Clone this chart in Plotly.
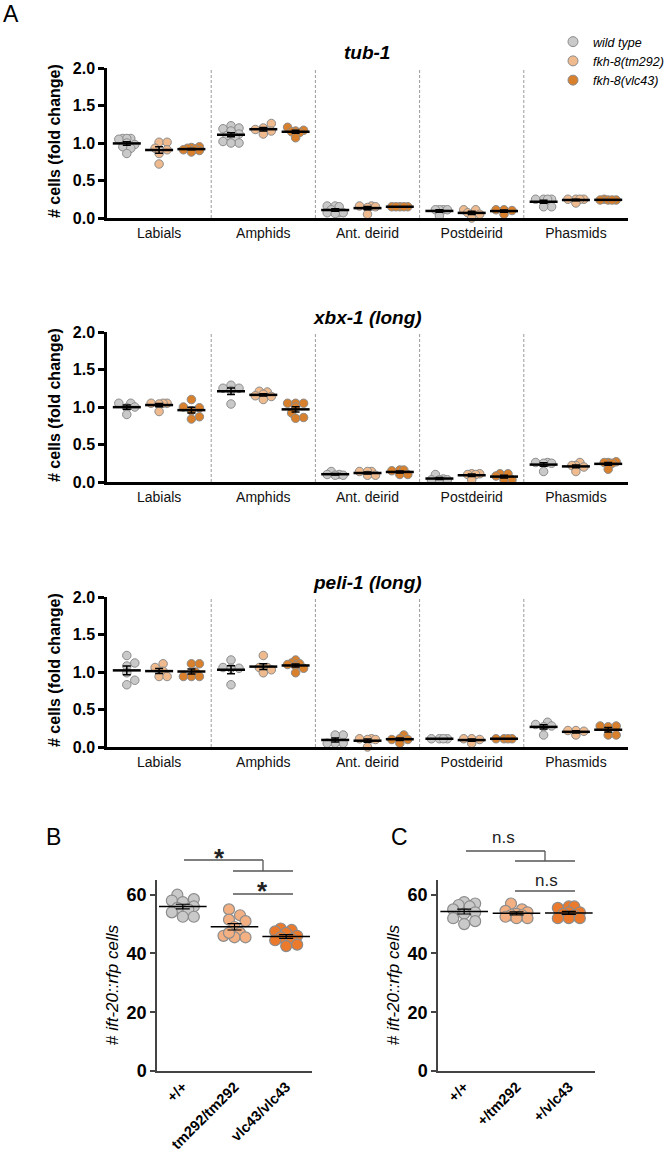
import numpy as np
import plotly.graph_objects as go

# ---- data ----
regions = ["Labials", "Amphids", "Ant. deirid", "Postdeirid", "Phasmids"]
strains = ["wild type", "fkh-8(tm292)", "fkh-8(vlc43)"]
genes = ["tub-1", "xbx-1 (long)", "peli-1 (long)"]

tub1_wt = [[1.06, 1.06, 1.06, 1.05, 1.0, 0.98, 0.95, 0.93, 0.86],
           [1.23, 1.2, 1.19, 1.16, 1.12, 1.1, 1.08, 1.02, 1.0, 1.0],
           [0.16, 0.16, 0.15, 0.11, 0.07, 0.07, 0.07, 0.06],
           [0.11, 0.11, 0.11, 0.11, 0.03],
           [0.25, 0.25, 0.25, 0.25, 0.15, 0.15]]
tub1_tm292 = [[1.01, 1.01, 0.93, 0.91, 0.86, 0.72],
              [1.26, 1.2, 1.18, 1.16, 1.12],
              [0.16, 0.16, 0.15, 0.14, 0.05],
              [0.11, 0.11, 0.07, 0.05, 0.0],
              [0.25, 0.25, 0.25, 0.25, 0.2]]
tub1_vlc43 = [[0.95, 0.94, 0.93, 0.92, 0.91, 0.90, 0.88],
              [1.21, 1.17, 1.16, 1.15, 1.14, 1.07],
              [0.15, 0.15, 0.15, 0.15, 0.15],
              [0.11, 0.11, 0.1, 0.05],
              [0.25, 0.24, 0.24, 0.24, 0.24]]

xbx1_wt = [[1.05, 1.05, 1.0, 0.99, 0.9],
           [1.29, 1.25, 1.25, 1.22, 1.04],
           [0.14, 0.1, 0.1, 0.09, 0.09],
           [0.1, 0.04, 0.03, 0.03, 0.03],
           [0.26, 0.26, 0.25, 0.25, 0.14]]
xbx1_tm292 = [[1.05, 1.05, 1.05, 1.04, 0.94],
              [1.21, 1.2, 1.17, 1.15, 1.14, 1.1],
              [0.14, 0.14, 0.14, 0.09, 0.09],
              [0.11, 0.11, 0.1, 0.1, 0.03],
              [0.26, 0.22, 0.22, 0.2, 0.14]]
xbx1_vlc43 = [[1.1, 1.0, 0.99, 0.95, 0.87, 0.84],
              [1.05, 1.05, 1.05, 1.0, 0.92, 0.86, 0.85],
              [0.16, 0.16, 0.15, 0.1, 0.1],
              [0.11, 0.11, 0.08, 0.03, 0.03],
              [0.27, 0.26, 0.26, 0.25, 0.17]]

peli1_wt = [[1.22, 1.12, 1.08, 0.99, 0.89, 0.83],
            [1.16, 1.06, 1.05, 1.05, 0.83],
            [0.16, 0.16, 0.05, 0.05, 0.05],
            [0.11, 0.11, 0.11, 0.11],
            [0.33, 0.3, 0.28, 0.27, 0.16]]
peli1_tm292 = [[1.11, 1.06, 1.01, 0.94, 0.94],
               [1.22, 1.06, 1.06, 1.03, 0.99],
               [0.11, 0.11, 0.1, 0.1, 0.0],
               [0.11, 0.11, 0.1, 0.05],
               [0.22, 0.22, 0.21, 0.16]]
peli1_vlc43 = [[1.11, 1.11, 1.0, 0.94, 0.94, 0.94],
               [1.16, 1.12, 1.11, 1.1, 1.08, 1.05, 0.99],
               [0.16, 0.11, 0.1, 0.1, 0.05],
               [0.11, 0.11, 0.11, 0.11],
               [0.28, 0.28, 0.27, 0.16, 0.16]]

panel_a = [[tub1_wt, tub1_tm292, tub1_vlc43],
           [xbx1_wt, xbx1_tm292, xbx1_vlc43],
           [peli1_wt, peli1_tm292, peli1_vlc43]]

labels_b = ["+/+", "tm292/tm292", "vlc43/vlc43"]
b_wt = [60, 58.5, 58, 57.5, 56, 55.5, 55, 54, 52.5, 52.5]
b_tm292 = [55, 53, 51.5, 51, 49, 47, 46, 45.5, 45.5, 47]
b_vlc43 = [48.5, 48, 47.5, 47, 46, 45.5, 45, 44.5, 43, 42.5]

labels_c = ["+/+", "+/tm292", "+/vlc43"]
c_wt = [57.5, 57, 56.5, 56, 55, 54, 53.5, 52, 51, 50]
c_tm292 = [57, 55, 54.5, 54, 53.5, 53, 53, 52.5, 52, 52]
c_vlc43 = [56, 56, 55.5, 54, 54, 53.5, 53, 52, 52, 52]

# ---- style ----
W, H = 668, 1153
FONT = "Liberation Sans, Arial, sans-serif"
fill_a = ["#c9c9c9", "#efbb8e", "#d8802c"]
fill_b = ["#c9c9c9", "#f3b083", "#ec7a2c"]
edge = "#8c8c8c"


def swarm(vals, ppu, diam, maxw):
    # compact beeswarm: pixel offsets, limited to +-maxw, overlap allowed when crowded
    vals = np.asarray(vals, float)
    offs = np.zeros(len(vals))
    placed = []
    step = diam * 0.5
    cands = [0.0]
    for n in range(1, 40):
        if n * step > maxw:
            break
        cands += [n * step, -n * step]
    for i in np.argsort(vals):
        yp = vals[i] * ppu
        best, best_d = 0.0, -1
        for c in cands:
            d = min([np.hypot(c - px, yp - py) for px, py in placed] or [1e9])
            if d >= 0.8 * diam:
                best = c
                break
            if d > best_d + 0.5:
                best, best_d = c, d
        placed.append((best, yp))
        offs[i] = best
    return offs


def px_x(p):
    return p / W


def px_y(p):
    return 1 - p / H


def note(text, x, y, size, **kw):
    return dict(text=text, x=px_x(x), y=px_y(y), xref="paper", yref="paper", showarrow=False,
                xanchor="center", yanchor="middle",
                font=dict(size=size, color=kw.pop("color", "black"), family=FONT), **kw)


fig = go.Figure()
layout = {}
shapes = []
annotations = []

# ---- panel A ----
a_x0, a_x1 = 107, 628
a_rows = [(68, 218), (332, 482), (597, 747)]
a_title_y = [52, 317, 582]
ppu_x_a = (a_x1 - a_x0) / 5.0
ppu_y_a = 75.0
grp_off = [-0.31, 0.0, 0.31]

for k, (top, bot) in enumerate(a_rows):
    n = k + 1
    xa, ya = f"x{n}", f"y{n}"
    layout[f"xaxis{n}"] = dict(domain=[px_x(a_x0), px_x(a_x1)], range=[-0.5, 4.5], anchor=ya,
                               tickvals=list(range(5)), ticktext=regions, showline=True,
                               linewidth=2.5, linecolor="black", ticks="", showgrid=False,
                               zeroline=False, tickfont=dict(size=14, color="#111", family=FONT))
    layout[f"yaxis{n}"] = dict(domain=[px_y(bot), px_y(top)], range=[0, 2.0], anchor=xa,
                               tickvals=[0, 0.5, 1.0, 1.5, 2.0], tickformat=".1f",
                               showline=True, linewidth=2.5, linecolor="black", ticks="outside",
                               ticklen=6, tickwidth=2.5, tickcolor="black", showgrid=False,
                               zeroline=False,
                               tickfont=dict(size=16, color="black", family=FONT, weight="bold"))
    for j in range(4):
        shapes.append(dict(type="line", xref=xa, yref=ya, x0=j + 0.5, x1=j + 0.5, y0=0, y1=2.0,
                           line=dict(color="#9a9a9a", width=1, dash="3px,2px")))
    for s in range(3):
        xs, ys, mx, my, se = [], [], [], [], []
        for r in range(5):
            v = panel_a[k][s][r]
            off = swarm(v, ppu_y_a, 8.0, 10.0) / ppu_x_a
            xs += list(r + grp_off[s] + off)
            ys += list(v)
            mx.append(r + grp_off[s])
            my.append(np.mean(v))
            se.append(np.std(v, ddof=1) / np.sqrt(len(v)))
        fig.add_trace(go.Scatter(x=xs, y=ys, xaxis=xa, yaxis=ya, mode="markers", showlegend=False,
                                 cliponaxis=False,
                                 marker=dict(size=8.5, color=fill_a[s], line=dict(color=edge, width=1))))
        fig.add_trace(go.Scatter(x=mx, y=my, xaxis=xa, yaxis=ya, mode="markers", showlegend=False,
                                 cliponaxis=False,
                                 marker=dict(symbol="line-ew", size=20, line=dict(color="black", width=2.5)),
                                 error_y=dict(type="data", array=se, width=4, thickness=1.5, color="black")))
    annotations.append(note(f"<b><i>{genes[k]}</i></b>", 367, a_title_y[k], 19))
    annotations.append(note("<b># cells (fold change)</b>", 54, (top + bot) / 2 - 2, 16, textangle=-90))

# legend entries (panel A)
for s in range(3):
    fig.add_trace(go.Scatter(x=[None], y=[None], xaxis="x1", yaxis="y1", mode="markers",
                             name=f"<i>{strains[s]}</i>",
                             marker=dict(size=10, color=fill_a[s], line=dict(color=edge, width=1))))

# ---- panels B and C ----
bc = [
    dict(n=4, x0=157, x1=312, data=[b_wt, b_tm292, b_vlc43], labels=labels_b),
    dict(n=5, x0=438, x1=595, data=[c_wt, c_tm292, c_vlc43], labels=labels_c),
]
bc_top, bc_bot = 880, 1071
ppu_y_b = (bc_bot - 895) / 60.0
for p in bc:
    n = p["n"]
    xa, ya = f"x{n}", f"y{n}"
    ppu_x = (p["x1"] - p["x0"]) / 3.0
    layout[f"xaxis{n}"] = dict(domain=[px_x(p["x0"]), px_x(p["x1"])], range=[-0.5, 2.5], anchor=ya,
                               tickvals=[0, 1, 2], ticktext=p["labels"], tickangle=-45,
                               showline=True, linewidth=1.5, linecolor="#444", ticks="",
                               showgrid=False, zeroline=False,
                               tickfont=dict(size=14.5, color="black", family=FONT, weight="bold"))
    layout[f"yaxis{n}"] = dict(domain=[px_y(bc_bot), px_y(bc_top)], range=[0, 65], anchor=xa,
                               tickvals=[0, 20, 40, 60], showline=True, linewidth=1.5, linecolor="#444",
                               ticks="outside", ticklen=5, tickwidth=1.5, tickcolor="#444",
                               showgrid=False, zeroline=False,
                               tickfont=dict(size=18, color="black", family=FONT, weight="bold"))
    for s in range(3):
        v = p["data"][s]
        off = swarm(v, ppu_y_b, 11.0, 14.0) / ppu_x
        fig.add_trace(go.Scatter(x=list(s + off), y=v, xaxis=xa, yaxis=ya, mode="markers",
                                 showlegend=False, cliponaxis=False,
                                 marker=dict(size=11, color=fill_b[s], line=dict(color=edge, width=1.2))))
        fig.add_trace(go.Scatter(x=[s], y=[np.mean(v)], xaxis=xa, yaxis=ya, mode="markers",
                                 showlegend=False, cliponaxis=False,
                                 marker=dict(symbol="line-ew", size=34, line=dict(color="black", width=1.5)),
                                 error_y=dict(type="data", array=[np.std(v, ddof=1) / np.sqrt(len(v))],
                                              width=7, thickness=1.2, color="black")))
    annotations.append(note("# <i>ift-20::rfp cells</i>", p["x0"] - 45, 985, 17, textangle=-90))

# significance brackets (pixel positions on the page)
br = dict(color="#555", width=1.3)
for x0, y0, x1, y1 in [(184, 860, 263, 860), (263, 860, 263, 871), (233, 871, 293, 871),
                       (233, 894, 293, 894),
                       (466, 851, 545, 851), (545, 851, 545, 861), (515, 861, 575, 861),
                       (515, 891, 575, 891)]:
    shapes.append(dict(type="line", xref="paper", yref="paper", x0=px_x(x0), y0=px_y(y0),
                       x1=px_x(x1), y1=px_y(y1), line=br))

annotations += [note("<b>*</b>", 219, 858, 26, color="#222"), note("<b>*</b>", 262, 891, 26, color="#222"),
                note("n.s", 503, 837, 17, color="#222"), note("n.s", 546, 880, 17, color="#222")]

# panel letters
for t, x, y in [("A", 11, 14), ("B", 53, 837), ("C", 400, 837)]:
    annotations.append(note(t, x, y, 23))

fig.update_layout(
    width=W, height=H,
    margin=dict(l=0, r=0, t=0, b=0, autoexpand=False),
    paper_bgcolor="white", plot_bgcolor="white",
    font=dict(family=FONT, color="black"),
    shapes=shapes, annotations=annotations,
    legend=dict(x=px_x(553), y=px_y(27), xanchor="left", yanchor="top", bgcolor="rgba(0,0,0,0)",
                font=dict(size=12.5, color="black", family=FONT), tracegroupgap=0, itemwidth=30),
    **layout,
)

# the page's default body margin would push the figure 8px right/down
fig.write_html("out.html", config={"displayModeBar": False},
               post_script="document.body.style.margin='0px';")
